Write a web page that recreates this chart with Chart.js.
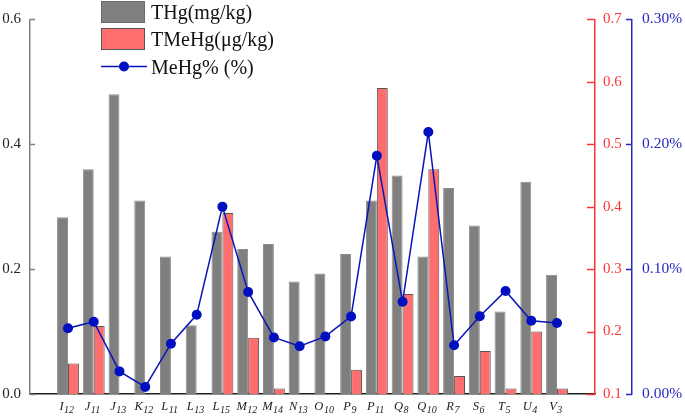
<!DOCTYPE html>
<html>
<head>
<meta charset="utf-8">
<script src="https://cdn.jsdelivr.net/npm/chart.js@4/dist/chart.umd.min.js"></script>
<style>
  html, body { margin: 0; padding: 0; background: #ffffff; }
  #wrap { width: 685px; height: 416px; position: relative; }
</style>
</head>
<body>
<div id="wrap"><canvas id="c" width="685" height="416"></canvas></div>
<script>
// ---- data ----
const categories = ['I12','J11','J13','K12','L11','L13','L15','M12','M14','N13','O10','P9','P11','Q8','Q10','R7','S6','T5','U4','V3'];
const thg = [0.283,0.36,0.48,0.31,0.22,0.11,0.26,0.232,0.24,0.18,0.193,0.224,0.31,0.35,0.22,0.33,0.27,0.132,0.34,0.191];
const tmehg = [0.149,0.209,0.087,0.018,0.089,0.070,0.39,0.19,0.109,0.069,0.089,0.139,0.59,0.26,0.46,0.129,0.169,0.109,0.2,0.109];
const mehgPct = [0.0526,0.0579,0.0181,0.0057,0.0403,0.0634,0.150,0.0817,0.0453,0.0383,0.0461,0.0621,0.1907,0.0738,0.2097,0.039,0.0623,0.0825,0.0587,0.0568];
const leftTicks = [0, 0.2, 0.4, 0.6];
const redTicks = [0.1, 0.2, 0.3, 0.4, 0.5, 0.6, 0.7];
const blueTicks = [0, 0.1, 0.2, 0.3];
const legendLabels = ['THg(mg/kg)', 'TMeHg(\u03bcg/kg)', 'MeHg% (%)'];

const SERIF = '"Liberation Serif", "Times New Roman", serif';
const GRAY = '#7f7f7f';
const RED = '#ff6e6e';
const BLUE = '#0a14b8';
const RED_AXIS = '#ff3535';
const BLUE_AXIS = '#2828c0';

const toXY = (arr) => arr.map((v, i) => ({ x: i, y: v }));

// inward tick marks + subscripted x labels + legend
const decor = {
  id: 'decor',
  afterDraw(chart) {
    const ctx = chart.ctx;
    const sc = chart.scales;
    ctx.save();
    const tickSets = [
      { s: sc.y, len: 5, color: '#808080', dir: 1 },
      { s: sc.y1, len: 8, color: RED_AXIS, dir: -1 },
      { s: sc.y2, len: 6, color: BLUE_AXIS, dir: -1 }
    ];
    tickSets.forEach(t => {
      const x0 = t.dir === 1 ? t.s.right : t.s.left;
      ctx.strokeStyle = t.color;
      ctx.lineWidth = 1.5;
      t.s.ticks.forEach((tk, i) => {
        const y = Math.round(t.s.getPixelForTick(i)) + 0.5;
        ctx.beginPath();
        ctx.moveTo(x0, y);
        ctx.lineTo(x0 + t.dir * t.len, y);
        ctx.stroke();
      });
    });
    const xs = sc.x;
    const base = chart.chartArea.bottom + 15.5;
    ctx.fillStyle = '#222';
    ctx.textBaseline = 'alphabetic';
    ctx.textAlign = 'left';
    categories.forEach((c, i) => {
      const m = c.match(/^([A-Za-z]+)(\d+)$/);
      const main = m ? m[1] : c;
      const sub = m ? m[2] : '';
      ctx.font = 'italic 12.5px ' + SERIF;
      const w1 = ctx.measureText(main).width;
      ctx.font = 'italic 10px ' + SERIF;
      const w2 = ctx.measureText(sub).width;
      const cx = xs.getPixelForValue(i) - 1.5;
      const x0 = cx - (w1 + w2) / 2;
      ctx.font = 'italic 12.5px ' + SERIF;
      ctx.fillText(main, x0, base);
      ctx.font = 'italic 10px ' + SERIF;
      ctx.fillText(sub, x0 + w1 + 0.5, base + 3);
    });
    const lx = 101, tx = 151;
    ctx.lineWidth = 1;
    ctx.fillStyle = GRAY;
    ctx.fillRect(lx, 1, 44, 22);
    ctx.strokeStyle = '#6a6a6a';
    ctx.strokeRect(lx + 0.5, 1.5, 43, 21);
    ctx.fillStyle = RED;
    ctx.fillRect(lx, 28, 44, 22);
    ctx.strokeStyle = '#555';
    ctx.strokeRect(lx + 0.5, 28.5, 43, 21);
    ctx.strokeStyle = BLUE;
    ctx.lineWidth = 1.5;
    ctx.beginPath();
    ctx.moveTo(lx, 66.5);
    ctx.lineTo(lx + 46, 66.5);
    ctx.stroke();
    ctx.fillStyle = '#0010c0';
    ctx.beginPath();
    ctx.arc(lx + 23, 66.5, 5, 0, Math.PI * 2);
    ctx.fill();
    ctx.fillStyle = '#111';
    ctx.font = '20px ' + SERIF;
    ctx.fillText(legendLabels[0], tx, 18.5);
    ctx.fillText(legendLabels[1], tx, 46);
    ctx.fillText(legendLabels[2], tx, 74);
    ctx.restore();
  }
};

new Chart(document.getElementById('c'), {
  type: 'bar',
  data: {
    datasets: [
      {
        type: 'line',
        label: legendLabels[2],
        data: toXY(mehgPct),
        yAxisID: 'y2',
        order: 0,
        borderColor: BLUE,
        borderWidth: 1.5,
        tension: 0,
        pointRadius: 5,
        pointHoverRadius: 5,
        pointBackgroundColor: '#0010c0',
        pointBorderWidth: 0,
        fill: false
      },
      {
        label: legendLabels[0],
        data: toXY(thg),
        yAxisID: 'y',
        order: 1,
        backgroundColor: GRAY,
        borderColor: '#8c8c8c',
        borderWidth: 1,
        borderSkipped: 'start',
        categoryPercentage: 0.85,
        barPercentage: 1.0
      },
      {
        label: legendLabels[1],
        data: toXY(tmehg),
        yAxisID: 'y1',
        order: 2,
        backgroundColor: RED,
        borderColor: '#555555',
        borderWidth: 1,
        borderSkipped: 'start',
        categoryPercentage: 0.85,
        barPercentage: 1.0,
        clip: 0
      }
    ]
  },
  options: {
    responsive: false,
    animation: false,
    devicePixelRatio: 1,
    layout: { padding: { top: 12, left: 0, right: 0, bottom: 0 } },
    plugins: { legend: { display: false }, tooltip: { enabled: false } },
    scales: {
      x: {
        type: 'linear',
        min: -1.476,
        max: 20.476,
        offset: false,
        grid: { display: false, drawTicks: false },
        border: { display: true, color: '#1e1e1e', width: 1.5 },
        ticks: { display: false },
        afterBuildTicks: (s) => { s.ticks = categories.map((_, i) => ({ value: i })); },
        afterFit: (s) => { s.height = 22; }
      },
      y: {
        position: 'left',
        min: 0, max: 0.6,
        grid: { display: false, drawTicks: false },
        border: { display: true, color: '#808080', width: 1.5 },
        afterBuildTicks: (s) => { s.ticks = leftTicks.map(v => ({ value: v })); },
        ticks: {
          color: '#222',
          padding: 9,
          font: { family: SERIF, size: 15 },
          callback: (v) => Number(v).toFixed(1)
        },
        afterFit: (s) => { s.width = 30; }
      },
      y1: {
        position: 'right',
        min: 0.1, max: 0.7,
        grid: { display: false, drawTicks: false },
        border: { display: true, color: RED_AXIS, width: 1.5 },
        afterBuildTicks: (s) => { s.ticks = redTicks.map(v => ({ value: v })); },
        ticks: {
          color: RED_AXIS,
          padding: 8,
          font: { family: SERIF, size: 15 },
          callback: (v) => Number(v).toFixed(1)
        },
        afterFit: (s) => { s.width = 37; }
      },
      y2: {
        position: 'right',
        min: 0, max: 0.3,
        grid: { display: false, drawTicks: false },
        border: { display: true, color: BLUE_AXIS, width: 1.5 },
        afterBuildTicks: (s) => { s.ticks = blueTicks.map(v => ({ value: v })); },
        ticks: {
          color: BLUE_AXIS,
          padding: 10,
          font: { family: SERIF, size: 15.5 },
          callback: (v) => Number(v).toFixed(2) + '%'
        },
        afterFit: (s) => { s.width = 53; }
      }
    }
  },
  plugins: [decor]
});
</script>
</body>
</html>
